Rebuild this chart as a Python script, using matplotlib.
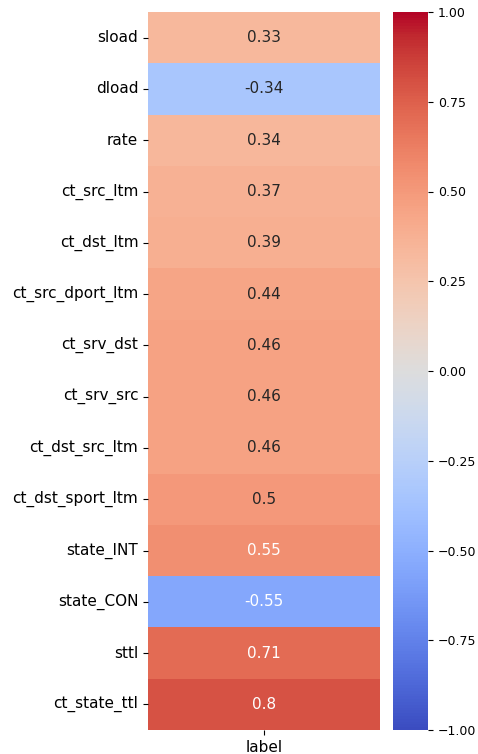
import numpy as np
import pandas as pd
import matplotlib
matplotlib.use('Agg')
import matplotlib.pyplot as plt
import seaborn as sns

features = ['sload', 'dload', 'rate', 'ct_src_ltm', 'ct_dst_ltm', 'ct_src_dport_ltm',
            'ct_srv_dst', 'ct_srv_src', 'ct_dst_src_ltm', 'ct_dst_sport_ltm',
            'state_INT', 'state_CON', 'sttl', 'ct_state_ttl']
corr_values = [0.33, -0.34, 0.34, 0.37, 0.39, 0.44, 0.46, 0.46, 0.46, 0.5,
               0.55, -0.55, 0.71, 0.8]

df = pd.DataFrame({'label': corr_values}, index=features)

fig = plt.figure(figsize=(4.78, 7.54), dpi=100)
ax = fig.add_axes([148 / 478, 24 / 754, 232 / 478, 718 / 754])
cax = fig.add_axes([393 / 478, 24 / 754, 35 / 478, 718 / 754])

sns.heatmap(df, annot=True, cmap='coolwarm', vmin=-1, vmax=1, ax=ax, cbar_ax=cax,
            annot_kws={'fontsize': 11})
ax.tick_params(axis='both', labelsize=11)
ax.set_yticklabels(features, rotation=0)
cax.tick_params(labelsize=9)

fig.savefig('out.png', dpi=100)
